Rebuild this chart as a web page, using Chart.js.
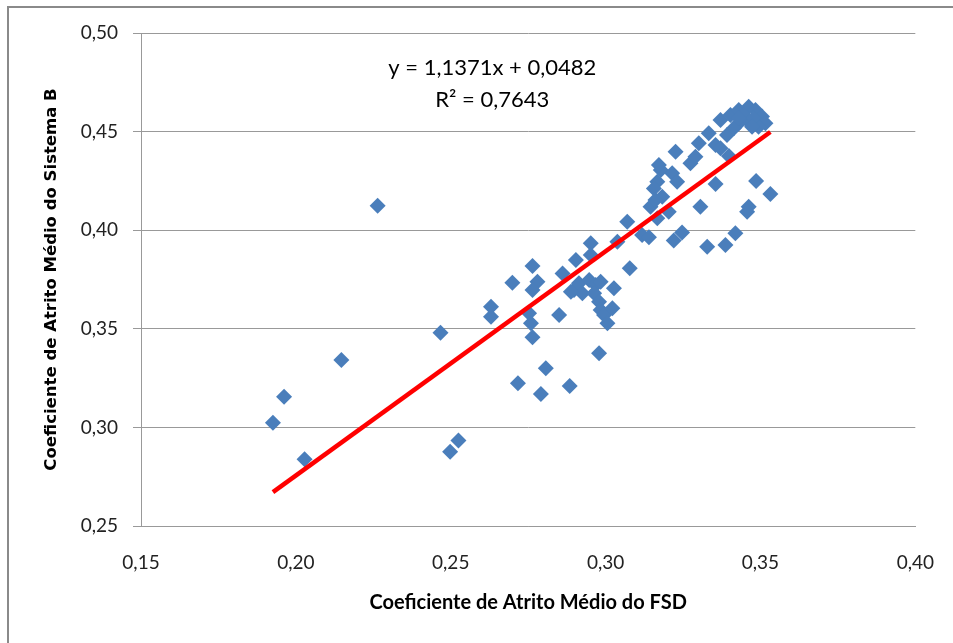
<!DOCTYPE html>
<html lang="pt">
<head>
  <meta charset="UTF-8">
  <title>Coeficiente de Atrito Médio: FSD x Sistema B</title>
  <script src="https://cdn.jsdelivr.net/npm/chart.js"></script>
  <style>
    html, body { margin: 0; padding: 0; background: #fff; }
    #wrap { position: relative; width: 953px; height: 643px; }
    #moldura { position: absolute; left: 7px; top: 6px; right: 0; bottom: 0;
               border-top: 2px solid #8a8a8a; border-left: 2px solid #8a8a8a; }
    canvas { position: absolute; left: 0; top: 0; }
  </style>
</head>
<body>
<div id="wrap">
  <div id="moldura"></div>
  <canvas id="grafico" width="953" height="643"></canvas>
</div>
<script>
// Coeficiente de atrito médio do FSD (eixo x)
const atritoFSD = [
  0.1926, 0.1962, 0.2028, 0.2147, 0.2264, 0.2467, 0.2498, 0.2525, 0.2630, 0.2630,
  0.2699, 0.2717, 0.2764, 0.2780, 0.2764, 0.2753, 0.2759, 0.2764, 0.2807, 0.2791,
  0.2884, 0.2850, 0.2861, 0.2904, 0.2952, 0.2952, 0.2898, 0.2914, 0.2925, 0.2947,
  0.2968, 0.2984, 0.2963, 0.2979, 0.2984, 0.2995, 0.3006, 0.3027, 0.3022, 0.2888,
  0.2979, 0.3078, 0.3038, 0.3070, 0.3118, 0.3140, 0.3145, 0.3167, 0.3204, 0.3167,
  0.3178, 0.3215, 0.3231, 0.3156, 0.3172, 0.3183, 0.3161, 0.3226, 0.3220, 0.3247,
  0.3274, 0.3290, 0.3301, 0.3333, 0.3306, 0.3328, 0.3355, 0.3387, 0.3419, 0.3462,
  0.3457, 0.3486, 0.3532, 0.3355, 0.3371, 0.3392, 0.3398, 0.3371, 0.3403, 0.3430,
  0.3462, 0.3484, 0.3505, 0.3516, 0.3494, 0.3462, 0.3430, 0.3414, 0.3446, 0.3478,
  0.3473, 0.3430
];
// Coeficiente de atrito médio do Sistema B (eixo y)
const atritoSistemaB = [
  0.3024, 0.3156, 0.2838, 0.3342, 0.4124, 0.3480, 0.2877, 0.2933, 0.3612, 0.3561,
  0.3734, 0.3224, 0.3818, 0.3739, 0.3697, 0.3579, 0.3528, 0.3457, 0.3300, 0.3169,
  0.3210, 0.3570, 0.3781, 0.3849, 0.3934, 0.3874, 0.3697, 0.3731, 0.3680, 0.3747,
  0.3722, 0.3739, 0.3680, 0.3637, 0.3595, 0.3570, 0.3528, 0.3705, 0.3604, 0.3688,
  0.3376, 0.3807, 0.3942, 0.4043, 0.3976, 0.3964, 0.4119, 0.4060, 0.4094, 0.4246,
  0.4305, 0.4289, 0.4246, 0.4212, 0.4331, 0.4170, 0.4153, 0.4398, 0.3948, 0.3988,
  0.4339, 0.4373, 0.4441, 0.4491, 0.4119, 0.3916, 0.4234, 0.3925, 0.3984, 0.4119,
  0.4094, 0.4250, 0.4184, 0.4432, 0.4415, 0.4483, 0.4376, 0.4559, 0.4584, 0.4610,
  0.4626, 0.4610, 0.4576, 0.4542, 0.4525, 0.4550, 0.4542, 0.4517, 0.4584, 0.4569,
  0.4525, 0.4569
];
// Linha de tendência (equação mostrada no gráfico)
const inclinacao = 1.1371;
const intercepto = 0.0482;
const textoEquacao = ['y = 1,1371x + 0,0482', 'R² = 0,7643'];

const pontos = atritoFSD.map((x, i) => ({ x, y: atritoSistemaB[i] }));
const xMin = Math.min(...atritoFSD), xMax = Math.max(...atritoFSD);
const tendencia = [xMin, xMax].map(x => ({ x, y: inclinacao * x + intercepto }));

const fmt = v => v.toFixed(2).replace('.', ',');

// texto da equação, posicionado em coordenadas de dados
const equacaoPlugin = {
  id: 'equacao',
  afterDatasetsDraw(chart) {
    const { ctx, scales } = chart;
    const cx = scales.x.getPixelForValue(0.2634);
    const cy = scales.y.getPixelForValue(0.4823);
    ctx.save();
    ctx.fillStyle = '#000';
    ctx.font = '22px Lato, "Open Sans", sans-serif';
    ctx.textAlign = 'center';
    ctx.textBaseline = 'middle';
    ctx.fillText(textoEquacao[0], cx, cy);
    ctx.fillText(textoEquacao[1], cx, cy + 32);
    ctx.restore();
  }
};

new Chart(document.getElementById('grafico'), {
  type: 'scatter',
  data: {
    datasets: [
      {
        label: 'Tendência',
        data: tendencia,
        showLine: true,
        borderColor: '#ff0000',
        borderWidth: 4.5,
        pointRadius: 0,
        order: 0
      },
      {
        label: 'Dados',
        data: pontos,
        pointStyle: 'rectRot',
        pointRadius: 8,
        pointHoverRadius: 8,
        backgroundColor: '#4a7ebb',
        borderColor: '#4a7ebb',
        borderWidth: 0,
        order: 1
      }
    ]
  },
  options: {
    responsive: false,
    animation: false,
    layout: { padding: { left: 38, right: 36, top: 33, bottom: 24 } },
    plugins: { legend: { display: false }, tooltip: { enabled: false } },
    scales: {
      x: {
        type: 'linear',
        min: 0.15, max: 0.40,
        ticks: { stepSize: 0.05, callback: fmt, color: '#222', padding: 19,
                 font: { family: 'Lato', size: 19 } },
        grid: { display: false, drawTicks: true, tickLength: 6, tickColor: '#999' },
        border: { color: '#999', width: 1 },
        title: { display: true, text: 'Coeficiente de Atrito Médio do FSD', color: '#000',
                 font: { family: 'Lato', size: 20, weight: 'bold' }, padding: { top: 12 } },
        afterFit(s) { s.height = 643 - 526 - 24; }
      },
      y: {
        min: 0.25, max: 0.50,
        ticks: { stepSize: 0.05, callback: fmt, color: '#222', padding: 15,
                 font: { family: 'Lato', size: 19 } },
        grid: { color: '#999', lineWidth: 1, tickLength: 8, tickColor: '#999' },
        border: { color: '#999', width: 1 },
        title: { display: true, text: 'Coeficiente de Atrito Médio do Sistema B', color: '#000',
                 font: { family: 'DejaVu Sans', size: 16.5, weight: 'bold' }, padding: { bottom: 6 } },
        afterFit(s) { s.width = 141 - 38; }
      }
    }
  },
  plugins: [equacaoPlugin]
});
</script>
</body>
</html>
